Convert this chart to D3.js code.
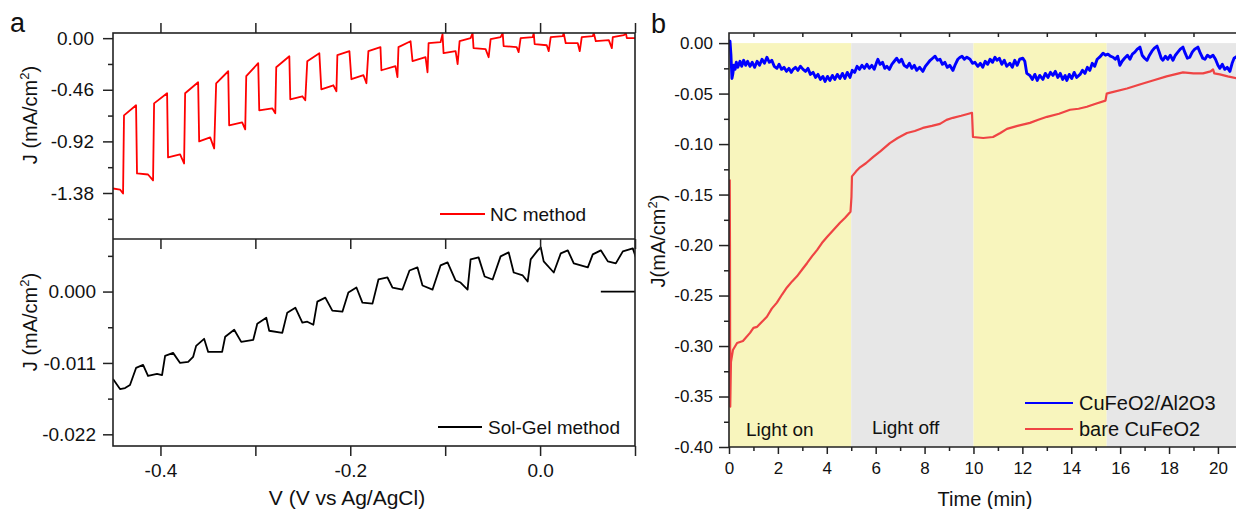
<!DOCTYPE html>
<html>
<head>
<meta charset="utf-8">
<script src="https://cdn.jsdelivr.net/npm/d3@7"></script>
<style>
  body { margin: 0; background: #fff; }
  svg { display: block; font-family: "Liberation Sans", Arial, sans-serif; }
</style>
</head>
<body>
<script>
// ---- panel a : chopped LSV, NC method (V vs Ag/AgCl, mA/cm2)
const ncCurve = [
  [-0.450, -1.340], [-0.4426, -1.349], [-0.4394, -1.384], [-0.4384, -0.688], [-0.4257, -0.598],
  [-0.4247, -1.206], [-0.4131, -1.215], [-0.4078, -1.268], [-0.4067, -0.581], [-0.3930, -0.491],
  [-0.3920, -1.063], [-0.3793, -1.036], [-0.3751, -1.117], [-0.3740, -0.491], [-0.3603, -0.393],
  [-0.3592, -0.920], [-0.3476, -0.884], [-0.3434, -0.983], [-0.3413, -0.402], [-0.3286, -0.295],
  [-0.3276, -0.777], [-0.3139, -0.750], [-0.3107, -0.813], [-0.3096, -0.339], [-0.2970, -0.223],
  [-0.2959, -0.643], [-0.2822, -0.625], [-0.2790, -0.670], [-0.2780, -0.259], [-0.2642, -0.161],
  [-0.2632, -0.545], [-0.2505, -0.518], [-0.2474, -0.554], [-0.2453, -0.205], [-0.2326, -0.134],
  [-0.2305, -0.456], [-0.2178, -0.420], [-0.2146, -0.473], [-0.2136, -0.152], [-0.2009, -0.116],
  [-0.1988, -0.366], [-0.1861, -0.330], [-0.1830, -0.402], [-0.1809, -0.116], [-0.1682, -0.080],
  [-0.1672, -0.286], [-0.1524, -0.250], [-0.1503, -0.348], [-0.1492, -0.080], [-0.1365, -0.027],
  [-0.1344, -0.205], [-0.1207, -0.170], [-0.1186, -0.304], [-0.1175, -0.045], [-0.1049, -0.036], [-0.1028, 0.036],
  [-0.1017, -0.134], [-0.0890, -0.116], [-0.0869, -0.232], [-0.0848, -0.027], [-0.0732, 0.000], [-0.0711, 0.045],
  [-0.0701, -0.089], [-0.0574, -0.098], [-0.0542, -0.170], [-0.0521, -0.009], [-0.0416, 0.009], [-0.0394, 0.045],
  [-0.0384, -0.071], [-0.0247, -0.080], [-0.0226, -0.125], [-0.0205, 0.000], [-0.0078, 0.009], [-0.0067, 0.045],
  [-0.0057, -0.054], [0.0070, -0.063], [0.0091, -0.116], [0.0112, 0.009], [0.0239, 0.018], [0.0249, 0.045],
  [0.0270, -0.045], [0.0397, -0.045], [0.0418, -0.116], [0.0439, 0.009], [0.0555, 0.018], [0.0566, 0.045],
  [0.0587, -0.027], [0.0724, -0.018], [0.0756, -0.089], [0.0766, 0.009], [0.0883, 0.027], [0.0904, 0.045],
  [0.0914, 0.000], [0.1009, 0.000]
];

// ---- panel a : Sol-Gel method
const sgCurve = [
  [-0.4500, -0.01348], [-0.4426, -0.01503], [-0.4373, -0.01487], [-0.4321, -0.01441], [-0.4257, -0.01177],
  [-0.4183, -0.01131], [-0.4131, -0.01301], [-0.4036, -0.01270], [-0.3983, -0.01286], [-0.3951, -0.00992],
  [-0.3867, -0.00945], [-0.3793, -0.01100], [-0.3708, -0.01085], [-0.3656, -0.01007], [-0.3624, -0.00837],
  [-0.3540, -0.00728], [-0.3497, -0.00930], [-0.3350, -0.00930], [-0.3318, -0.00697], [-0.3223, -0.00589],
  [-0.3149, -0.00775], [-0.3022, -0.00744], [-0.2980, -0.00496], [-0.2885, -0.00403], [-0.2854, -0.00604],
  [-0.2716, -0.00635], [-0.2664, -0.00325], [-0.2579, -0.00248], [-0.2505, -0.00480], [-0.2453, -0.00465],
  [-0.2389, -0.00511], [-0.2347, -0.00155], [-0.2263, -0.00093], [-0.2189, -0.00294], [-0.2083, -0.00310],
  [-0.2020, -0.00015], [-0.1935, 0.00062], [-0.1872, -0.00170], [-0.1766, -0.00186], [-0.1703, 0.00186],
  [-0.1608, 0.00217], [-0.1555, 0.00062], [-0.1450, 0.00031], [-0.1376, 0.00325], [-0.1292, 0.00372],
  [-0.1239, 0.00093], [-0.1133, 0.00031], [-0.1049, 0.00403], [-0.0975, 0.00449], [-0.0890, 0.00170],
  [-0.0838, 0.00139], [-0.0764, 0.00031], [-0.0732, 0.00496], [-0.0648, 0.00527], [-0.0584, 0.00232],
  [-0.0500, 0.00186], [-0.0416, 0.00542], [-0.0331, 0.00604], [-0.0278, 0.00294], [-0.0183, 0.00248],
  [-0.0131, 0.00155], [-0.0099, 0.00496], [-0.0025, 0.00635], [0.0007, 0.00682], [0.0038, 0.00465],
  [0.0144, 0.00294], [0.0218, 0.00589], [0.0292, 0.00635], [0.0355, 0.00434], [0.0503, 0.00372],
  [0.0555, 0.00573], [0.0640, 0.00635], [0.0714, 0.00465], [0.0798, 0.00434], [0.0872, 0.00620],
  [0.0977, 0.00666], [0.1009, 0.00527]
];
const sgTail = [[0.064, 0.0], [0.1009, 0.0]];

const vTicks = [-0.4, -0.3, -0.2, -0.1, 0, 0.1];
const vLabelled = [-0.4, -0.2, 0];
const ncTicks = [0, -0.46, -0.92, -1.38];
const ncMinor = [-0.23, -0.69, -1.15, -1.61];
const sgTicks = [0, -0.011, -0.022];
const sgMinor = [0.0055, -0.0055, -0.0165];

// ---- panel b : J vs time (min)
const blueCurve = [
  [0.00, -0.002], [0.04, 0.002], [0.08, -0.012], [0.12, -0.035], [0.16, -0.030], [0.20, -0.022], [0.25, -0.026],
  [0.30, -0.019], [0.36, -0.024], [0.45, -0.018], [0.52, -0.023], [0.60, -0.017], [0.68, -0.022], [0.76, -0.018],
  [0.86, -0.023], [0.95, -0.019], [1.05, -0.024], [1.15, -0.018], [1.25, -0.022], [1.35, -0.016], [1.45, -0.020],
  [1.55, -0.014], [1.65, -0.019], [1.75, -0.017], [1.85, -0.023], [1.96, -0.025], [2.05, -0.021], [2.15, -0.026],
  [2.25, -0.024], [2.35, -0.028], [2.45, -0.025], [2.55, -0.029], [2.62, -0.026], [2.72, -0.024], [2.82, -0.027],
  [2.92, -0.023], [3.03, -0.026], [3.13, -0.028], [3.23, -0.025], [3.33, -0.031], [3.44, -0.029], [3.54, -0.034],
  [3.64, -0.031], [3.74, -0.036], [3.84, -0.033], [3.93, -0.038], [4.03, -0.033], [4.13, -0.037], [4.23, -0.032],
  [4.33, -0.036], [4.43, -0.031], [4.54, -0.035], [4.64, -0.030], [4.74, -0.035], [4.84, -0.029], [4.95, -0.034],
  [5.04, -0.027], [5.14, -0.029], [5.24, -0.023], [5.34, -0.026], [5.44, -0.022], [5.54, -0.025], [5.64, -0.021],
  [5.74, -0.025], [5.84, -0.022], [5.94, -0.026], [6.04, -0.019], [6.09, -0.016], [6.18, -0.021], [6.28, -0.019],
  [6.37, -0.025], [6.46, -0.023], [6.56, -0.026], [6.66, -0.021], [6.76, -0.018], [6.86, -0.015], [6.96, -0.019],
  [7.06, -0.016], [7.16, -0.022], [7.28, -0.024], [7.38, -0.020], [7.48, -0.025], [7.58, -0.022], [7.68, -0.027],
  [7.80, -0.024], [7.93, -0.028], [8.03, -0.023], [8.13, -0.020], [8.23, -0.017], [8.33, -0.015], [8.43, -0.013],
  [8.53, -0.017], [8.63, -0.016], [8.73, -0.021], [8.83, -0.019], [8.93, -0.024], [9.03, -0.022], [9.16, -0.027],
  [9.26, -0.021], [9.36, -0.016], [9.46, -0.014], [9.53, -0.013], [9.63, -0.016], [9.73, -0.014], [9.86, -0.016],
  [9.96, -0.020], [10.06, -0.019], [10.18, -0.023], [10.28, -0.020], [10.38, -0.024], [10.48, -0.018], [10.58, -0.021],
  [10.68, -0.016], [10.78, -0.019], [10.88, -0.014], [10.96, -0.017], [11.06, -0.015], [11.16, -0.021], [11.26, -0.017],
  [11.36, -0.023], [11.49, -0.020], [11.59, -0.024], [11.69, -0.017], [11.79, -0.022], [11.89, -0.016], [12.02, -0.015],
  [12.10, -0.018], [12.18, -0.030], [12.31, -0.032], [12.41, -0.036], [12.51, -0.031], [12.61, -0.037], [12.71, -0.032],
  [12.84, -0.036], [12.94, -0.030], [13.05, -0.034], [13.15, -0.029], [13.25, -0.032], [13.35, -0.028], [13.45, -0.034],
  [13.55, -0.030], [13.65, -0.036], [13.75, -0.032], [13.82, -0.037], [13.92, -0.031], [14.02, -0.035], [14.12, -0.029],
  [14.22, -0.034], [14.36, -0.031], [14.46, -0.027], [14.56, -0.030], [14.66, -0.024], [14.76, -0.027], [14.86, -0.020],
  [14.96, -0.023], [15.06, -0.016], [15.16, -0.014], [15.30, -0.010], [15.40, -0.012], [15.50, -0.011], [15.60, -0.013],
  [15.71, -0.014], [15.80, -0.016], [15.90, -0.013], [15.99, -0.022], [16.08, -0.018], [16.18, -0.015], [16.30, -0.012],
  [16.40, -0.016], [16.50, -0.011], [16.60, -0.009], [16.70, -0.006], [16.81, -0.004], [16.90, -0.012], [17.00, -0.015],
  [17.10, -0.017], [17.20, -0.012], [17.30, -0.008], [17.40, -0.005], [17.51, -0.003], [17.60, -0.009], [17.68, -0.015],
  [17.75, -0.017], [17.85, -0.013], [17.95, -0.016], [18.05, -0.012], [18.16, -0.017], [18.26, -0.012], [18.36, -0.009],
  [18.46, -0.006], [18.57, -0.004], [18.66, -0.010], [18.75, -0.015], [18.85, -0.014], [18.95, -0.009], [19.05, -0.006],
  [19.18, -0.004], [19.28, -0.010], [19.38, -0.015], [19.47, -0.016], [19.57, -0.012], [19.68, -0.014], [19.80, -0.012],
  [19.90, -0.016], [20.00, -0.022], [20.08, -0.025], [20.18, -0.021], [20.28, -0.026], [20.38, -0.024], [20.49, -0.028],
  [20.58, -0.020], [20.66, -0.015], [20.78, -0.013]
];
const redCurve = [
  [0.03, -0.135], [0.04, -0.200], [0.05, -0.360], [0.08, -0.316], [0.16, -0.304], [0.33, -0.297], [0.57, -0.295],
  [0.86, -0.287], [1.00, -0.282], [1.15, -0.281], [1.35, -0.276], [1.55, -0.271], [1.75, -0.263], [1.96, -0.257],
  [2.17, -0.249], [2.37, -0.242], [2.58, -0.236], [2.78, -0.231], [3.00, -0.224], [3.19, -0.218], [3.40, -0.211],
  [3.60, -0.205], [3.80, -0.198], [4.01, -0.192], [4.27, -0.185], [4.54, -0.178], [4.75, -0.173], [4.97, -0.167],
  [5.01, -0.152], [5.03, -0.132], [5.20, -0.127], [5.36, -0.123], [5.60, -0.119], [5.89, -0.113], [6.20, -0.107],
  [6.58, -0.099], [6.90, -0.094], [7.28, -0.089], [7.60, -0.087], [7.93, -0.084], [8.30, -0.082], [8.63, -0.080],
  [8.90, -0.076], [9.16, -0.074], [9.50, -0.072], [9.80, -0.070], [9.94, -0.069], [9.98, -0.093], [10.40, -0.094],
  [10.80, -0.093], [11.10, -0.089], [11.37, -0.085], [11.80, -0.082], [12.31, -0.079], [12.65, -0.076], [13.01, -0.073],
  [13.50, -0.070], [13.95, -0.066], [14.30, -0.065], [14.64, -0.063], [15.00, -0.060], [15.40, -0.057], [15.45, -0.050],
  [15.60, -0.049], [16.28, -0.045], [16.80, -0.041], [17.34, -0.037], [17.90, -0.033], [18.57, -0.029], [19.00, -0.030],
  [19.39, -0.030], [19.70, -0.028], [19.80, -0.026], [19.85, -0.030], [20.08, -0.031], [20.40, -0.033], [20.78, -0.035]
];
const phaseEdges = [0, 5, 10, 15.45, 20.78];
const phaseLight = [true, false, true, false];
const tMajor = [0, 2, 4, 6, 8, 10, 12, 14, 16, 18, 20];
const tMinor = [1, 3, 5, 7, 9, 11, 13, 15, 17, 19];
const jMajor = [0, -0.05, -0.10, -0.15, -0.20, -0.25, -0.30, -0.35, -0.40];
const jMinor = [-0.025, -0.075, -0.125, -0.175, -0.225, -0.275, -0.325, -0.375];

const W = 1236, H = 509;
const ink = '#222';
const svg = d3.select('body').append('svg').attr('width', W).attr('height', H);

function styleAxis(g, size) {
  g.attr('font-family', null).attr('font-size', size);
  g.select('.domain').remove();
  g.selectAll('line').attr('stroke', ink).attr('stroke-width', 1.5);
  g.selectAll('text').attr('fill', '#111');
  return g;
}

function yLabel(x, y, txt, size) {
  const t = svg.append('text')
    .attr('transform', `translate(${x},${y}) rotate(-90)`)
    .attr('text-anchor', 'middle')
    .attr('font-size', size)
    .attr('fill', '#111');
  t.append('tspan').text(txt);
  t.append('tspan').attr('dy', -8).attr('font-size', size * 0.65).text('2');
  t.append('tspan').attr('dy', 8).text(')');
}

// ================= panel a =================
const xA = d3.scaleLinear().domain([-0.45, 0.1]).range([113, 635]);
const yNC = d3.scaleLinear().domain([-1.79, 0.046]).range([239, 33]);
const ySG = d3.scaleLinear().domain([-0.0238, 0.0081]).range([446, 239]);

const defs = svg.append('defs');
defs.append('clipPath').attr('id', 'clipNC').append('rect')
  .attr('x', 113).attr('y', 33).attr('width', 522).attr('height', 206);
defs.append('clipPath').attr('id', 'clipSG').append('rect')
  .attr('x', 113).attr('y', 239).attr('width', 522).attr('height', 207);

const lineNC = d3.line().x(d => xA(d[0])).y(d => yNC(d[1]));
const lineSG = d3.line().x(d => xA(d[0])).y(d => ySG(d[1]));

svg.append('path').datum(ncCurve).attr('clip-path', 'url(#clipNC)')
  .attr('d', lineNC).attr('fill', 'none').attr('stroke', '#ff0000').attr('stroke-width', 1.8)
  .attr('stroke-linejoin', 'round');
svg.append('path').datum(sgCurve).attr('clip-path', 'url(#clipSG)')
  .attr('d', lineSG).attr('fill', 'none').attr('stroke', '#000').attr('stroke-width', 1.8)
  .attr('stroke-linejoin', 'round');
svg.append('path').datum(sgTail).attr('clip-path', 'url(#clipSG)')
  .attr('d', lineSG).attr('fill', 'none').attr('stroke', '#000').attr('stroke-width', 1.8);

// frames
svg.append('rect').attr('x', 113).attr('y', 33).attr('width', 522).attr('height', 413)
  .attr('fill', 'none').attr('stroke', ink).attr('stroke-width', 1.6);
svg.append('line').attr('x1', 113).attr('x2', 635).attr('y1', 239).attr('y2', 239)
  .attr('stroke', ink).attr('stroke-width', 1.6);

// x ticks
styleAxis(svg.append('g').attr('transform', 'translate(0,33)')
  .call(d3.axisTop(xA).tickValues(vTicks).tickSize(10).tickFormat('')), 19);
styleAxis(svg.append('g').attr('transform', 'translate(0,239)')
  .call(d3.axisBottom(xA).tickValues(vTicks).tickSize(10).tickFormat('')), 19);
styleAxis(svg.append('g').attr('transform', 'translate(0,446)')
  .call(d3.axisBottom(xA).tickValues(vTicks).tickSize(10).tickPadding(8)
    .tickFormat(d => vLabelled.includes(d) ? d.toFixed(1) : '')), 19);

// y ticks
styleAxis(svg.append('g').attr('transform', 'translate(113,0)')
  .call(d3.axisLeft(yNC).tickValues(ncTicks).tickSize(10).tickPadding(9).tickFormat(d => d.toFixed(2))), 19);
styleAxis(svg.append('g').attr('transform', 'translate(113,0)')
  .call(d3.axisLeft(yNC).tickValues(ncMinor).tickSize(5).tickFormat('')), 19);
styleAxis(svg.append('g').attr('transform', 'translate(113,0)')
  .call(d3.axisLeft(ySG).tickValues(sgTicks).tickSize(10).tickPadding(7).tickFormat(d => d.toFixed(3))), 19);
styleAxis(svg.append('g').attr('transform', 'translate(113,0)')
  .call(d3.axisLeft(ySG).tickValues(sgMinor).tickSize(5).tickFormat('')), 19);

yLabel(37, 115, 'J (mA/cm', 20);
yLabel(37, 322, 'J (mA/cm', 20);

svg.append('text').attr('x', 347).attr('y', 505).attr('text-anchor', 'middle')
  .attr('font-size', 21).attr('fill', '#111').text('V (V vs Ag/AgCl)');

// legends a
svg.append('line').attr('x1', 440).attr('x2', 485).attr('y1', 214).attr('y2', 214)
  .attr('stroke', '#ff0000').attr('stroke-width', 1.8);
svg.append('text').attr('x', 490).attr('y', 221).attr('font-size', 19).attr('fill', '#111').text('NC method');
svg.append('line').attr('x1', 438).attr('x2', 482).attr('y1', 427).attr('y2', 427)
  .attr('stroke', '#000').attr('stroke-width', 1.8);
svg.append('text').attr('x', 488).attr('y', 434).attr('font-size', 19).attr('fill', '#111').text('Sol-Gel method');

svg.append('text').attr('x', 10).attr('y', 32).attr('font-size', 27).attr('fill', '#111').text('a');

// ================= panel b =================
const xB = d3.scaleLinear().domain([0, 20.78]).range([729, 1237]);
const yB = d3.scaleLinear().domain([-0.40, 0.01]).range([447, 33]);

svg.append('g').selectAll('rect').data(phaseLight).join('rect')
  .attr('x', (d, i) => xB(phaseEdges[i]))
  .attr('width', (d, i) => xB(phaseEdges[i + 1]) - xB(phaseEdges[i]))
  .attr('y', yB(0))
  .attr('height', yB(-0.40) - yB(0))
  .attr('fill', d => d ? '#f8f5bd' : '#e7e7e7');

defs.append('clipPath').attr('id', 'clipB').append('rect')
  .attr('x', 729).attr('y', 33).attr('width', 508).attr('height', 414);

const lineB = d3.line().x(d => xB(d[0])).y(d => yB(d[1]));
svg.append('path').datum(redCurve).attr('clip-path', 'url(#clipB)')
  .attr('d', lineB).attr('fill', 'none').attr('stroke', '#ef4444').attr('stroke-width', 2.2)
  .attr('stroke-linejoin', 'round');
svg.append('path').datum(blueCurve).attr('clip-path', 'url(#clipB)')
  .attr('d', lineB).attr('fill', 'none').attr('stroke', '#0000ff').attr('stroke-width', 2.9)
  .attr('stroke-linejoin', 'round');

// frame b
svg.append('path').attr('d', 'M1237,33H729V447H1237')
  .attr('fill', 'none').attr('stroke', ink).attr('stroke-width', 1.6);

styleAxis(svg.append('g').attr('transform', 'translate(0,447)')
  .call(d3.axisBottom(xB).tickValues(tMajor).tickSize(7).tickPadding(8).tickFormat(d => d)), 17);
styleAxis(svg.append('g').attr('transform', 'translate(0,447)')
  .call(d3.axisBottom(xB).tickValues(tMinor).tickSize(4).tickFormat('')), 17);
styleAxis(svg.append('g').attr('transform', 'translate(0,33)')
  .call(d3.axisTop(xB).tickValues(tMinor).tickSize(-4).tickFormat('')), 17);
styleAxis(svg.append('g').attr('transform', 'translate(729,0)')
  .call(d3.axisLeft(yB).tickValues(jMajor).tickSize(10).tickPadding(6).tickFormat(d => d.toFixed(2))), 17);
styleAxis(svg.append('g').attr('transform', 'translate(729,0)')
  .call(d3.axisLeft(yB).tickValues(jMinor).tickSize(5).tickFormat('')), 17);

yLabel(665, 241, 'J(mA/cm', 20);
svg.append('text').attr('x', 985).attr('y', 506).attr('text-anchor', 'middle')
  .attr('font-size', 20).attr('fill', '#111').text('Time (min)');

svg.append('text').attr('x', 746).attr('y', 436).attr('font-size', 19).attr('fill', '#111').text('Light on');
svg.append('text').attr('x', 872).attr('y', 434).attr('font-size', 19).attr('fill', '#111').text('Light off');

svg.append('line').attr('x1', 1025).attr('x2', 1073).attr('y1', 403).attr('y2', 403)
  .attr('stroke', '#0000ff').attr('stroke-width', 2);
svg.append('text').attr('x', 1079).attr('y', 410).attr('font-size', 20).attr('fill', '#111').text('CuFeO2/Al2O3');
svg.append('line').attr('x1', 1025).attr('x2', 1073).attr('y1', 429).attr('y2', 429)
  .attr('stroke', '#ef4444').attr('stroke-width', 2);
svg.append('text').attr('x', 1079).attr('y', 436).attr('font-size', 20).attr('fill', '#111').text('bare CuFeO2');

svg.append('text').attr('x', 651).attr('y', 33).attr('font-size', 27).attr('fill', '#111').text('b');
</script>
</body>
</html>
